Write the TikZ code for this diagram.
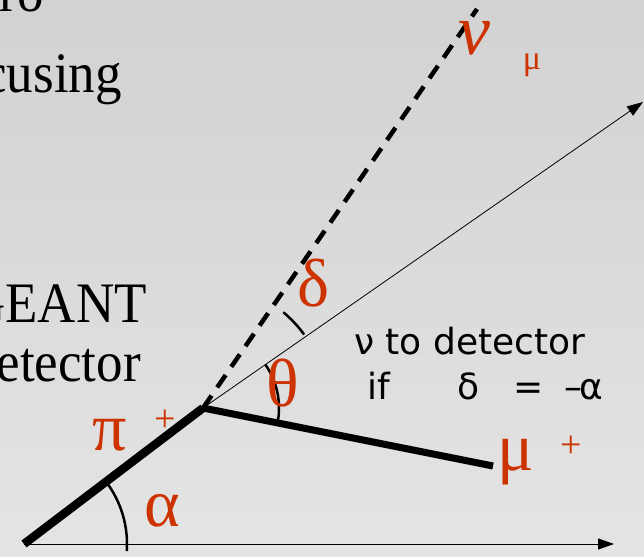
\documentclass[tikz,border=0pt]{standalone}
\usepackage{fontspec}
\setmainfont{Liberation Serif}
\newfontfamily\notefont{DejaVu Sans}
\usepackage{tikz}
\usetikzlibrary{arrows.meta,calc}
\definecolor{DecayRed}{HTML}{CC3300}
\definecolor{SlideTop}{HTML}{D2D2D2}
\definecolor{SlideBot}{HTML}{E4E4E4}
\newcommand{\slidetext}[1]{\scalebox{1}[1.08]{#1}}

\begin{document}
\begin{tikzpicture}[x=1pt,y=1pt,
  greek/.style={DecayRed,inner sep=0pt,anchor=base,font=\fontsize{68}{68}\selectfont},
  charge/.style={DecayRed,inner sep=0pt,anchor=base,font=\fontsize{38}{38}\selectfont},
  slide/.style={inner sep=0pt,anchor=base east,font=\fontsize{53}{64}\selectfont},
  note/.style={inner sep=0pt,anchor=base west,font=\notefont\fontsize{36}{43}\selectfont},
  anglearc/.style={line width=2.5pt}]
\shade[top color=SlideTop,bottom color=SlideBot] (0,0) rectangle (644,556);
\useasboundingbox (0,0) rectangle (644,556);
\clip (0,0) rectangle (644,556);
% slide text, cut at the left edge
\node[slide] (ro) at (44,544) {\slidetext{ro}};
\node[slide] (focusing) at (122,463) {\slidetext{focusing}};
\node[slide] (geant) at (147,233) {\slidetext{GEANT}};
\node[slide] (detector) at (141,174) {\slidetext{detector}};
% decay kinematics
\coordinate (origin) at (24,12);
\coordinate (decay) at (203,148);
\coordinate (muend) at (493,90);
\coordinate (nuend) at (477,547);
\coordinate (dettip) at (643,454);
\coordinate (beamtip) at (614,12);
\draw[line width=1pt,-{Triangle[length=16pt,width=11pt]}] (origin) -- (beamtip);
\draw[line width=0.8pt,-{Triangle[length=16pt,width=11pt]}] (decay) -- (dettip);
\draw[line width=4.5pt,dash pattern=on 15pt off 10pt] (decay) -- (nuend);
\draw[line width=8.5pt] (origin) -- (decay);
\draw[line width=7pt] (decay) -- (muend);
% angles
\draw[anglearc] ($(origin)+(37:103)$) arc[start angle=37,end angle=-4,radius=103];
\draw[anglearc] ($(decay)+(35:76)$) arc[start angle=35,end angle=-10,radius=76];
\draw[anglearc] ($(decay)+(36:125)$) arc[start angle=36,end angle=50,radius=125];
% particle and angle labels
\node[greek,font=\itshape\fontsize{72}{72}\selectfont] (nu) at (474,501) {ν};
\node[charge,font=\fontsize{34}{34}\selectfont] (nusub) at (532,486) {μ};
\node[greek] (delta) at (314,249) {δ};
\node[greek] (theta) at (283,149) {θ};
\node[greek] (pi) at (110,105) {π};
\node[charge] (piplus) at (165,124) {+};
\node[greek] (alpha) at (162,30) {α};
\node[greek] (mu) at (516,85) {μ};
\node[charge] (muplus) at (571,98) {+};
\node[note] (todet) at (354,201) {ν to detector};
\node[note] (cond) at (367,156) {if\hspace{68pt}δ\hspace{34pt}=\hspace{20pt}–\kern-3ptα};
\end{tikzpicture}
\end{document}
